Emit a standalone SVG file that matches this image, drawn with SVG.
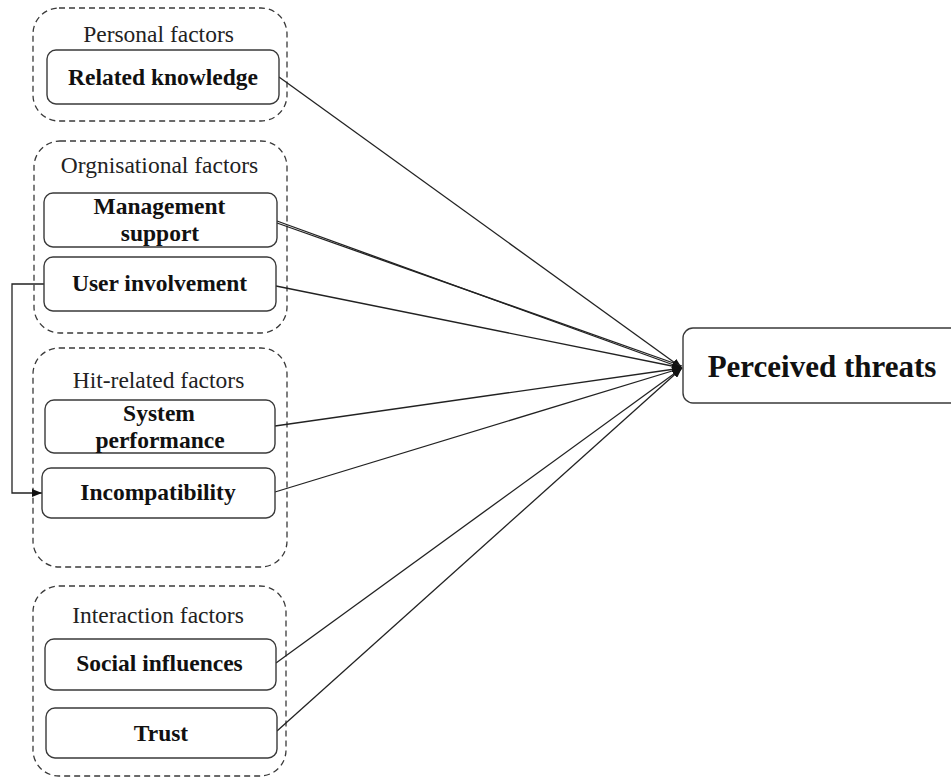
<svg xmlns="http://www.w3.org/2000/svg" width="951" height="778" viewBox="0 0 951 778">
  <style>
    .group { fill: none; stroke: #3a3a3a; stroke-width: 1.3; stroke-dasharray: 6 4; }
    .node { fill: #ffffff; stroke: #3a3a3a; stroke-width: 1.4; }
    .title { font-family: "Liberation Serif", "Times New Roman", serif; font-size: 23.5px; fill: #222; text-anchor: middle; }
    .label { font-family: "Liberation Serif", "Times New Roman", serif; font-size: 23.5px; font-weight: bold; fill: #111; text-anchor: middle; }
    .big { font-family: "Liberation Serif", "Times New Roman", serif; font-size: 31px; font-weight: bold; fill: #111; text-anchor: middle; }
    .edge { fill: none; stroke: #222; stroke-width: 1.3; }
  </style>
  <defs>
    <marker id="arrow" viewBox="0 0 10 8" refX="10" refY="4" markerWidth="10" markerHeight="8" markerUnits="userSpaceOnUse" orient="auto">
      <path d="M0,0 L10,4 L0,8 z" fill="#111"/>
    </marker>
  </defs>
  <rect width="951" height="778" fill="#ffffff"/>

  <!-- factor groups -->
  <g id="personal-factors">
    <rect class="group" x="33" y="8" width="254" height="113" rx="26"/>
    <text class="title" x="158.5" y="42">Personal factors</text>
  </g>
  <g id="organisational-factors">
    <rect class="group" x="34" y="141" width="253" height="192" rx="26"/>
    <text class="title" x="159.5" y="173">Orgnisational factors</text>
  </g>
  <g id="hit-related-factors">
    <rect class="group" x="33" y="348" width="254" height="219" rx="26"/>
    <text class="title" x="158.5" y="388">Hit-related factors</text>
  </g>
  <g id="interaction-factors">
    <rect class="group" x="33" y="586" width="253" height="190" rx="26"/>
    <text class="title" x="158" y="623">Interaction factors</text>
  </g>

  <!-- connectors -->
  <g id="connectors">
    <line class="edge" x1="279" y1="77" x2="682" y2="368" marker-end="url(#arrow)"/>
    <line class="edge" x1="277" y1="221" x2="682" y2="368" marker-end="url(#arrow)"/>
    <line class="edge" x1="277" y1="223" x2="682" y2="366"/>
    <line class="edge" x1="276" y1="286" x2="682" y2="368" marker-end="url(#arrow)"/>
    <line class="edge" x1="275" y1="426" x2="682" y2="368" marker-end="url(#arrow)"/>
    <line class="edge" x1="275" y1="492" x2="682" y2="368" marker-end="url(#arrow)"/>
    <line class="edge" x1="276" y1="663" x2="682" y2="368" marker-end="url(#arrow)"/>
    <line class="edge" x1="277" y1="731" x2="682" y2="368" marker-end="url(#arrow)"/>
    <path class="edge" d="M44,284 H12 V493 H42" marker-end="url(#arrow)"/>
  </g>

  <!-- nodes -->
  <g id="related-knowledge">
    <rect class="node" x="47" y="50" width="232" height="54" rx="9"/>
    <text class="label" x="163" y="85">Related knowledge</text>
  </g>
  <g id="management-support">
    <rect class="node" x="44" y="193" width="233" height="54" rx="9"/>
    <text class="label" x="159.5" y="214">Management</text>
    <text class="label" x="160" y="241">support</text>
  </g>
  <g id="user-involvement">
    <rect class="node" x="44" y="257" width="232" height="54" rx="9"/>
    <text class="label" x="159.5" y="291">User involvement</text>
  </g>
  <g id="system-performance">
    <rect class="node" x="45" y="400" width="230" height="53" rx="9"/>
    <text class="label" x="159" y="421">System</text>
    <text class="label" x="160" y="448">performance</text>
  </g>
  <g id="incompatibility">
    <rect class="node" x="42" y="468" width="233" height="50" rx="9"/>
    <text class="label" x="158" y="500">Incompatibility</text>
  </g>
  <g id="social-influences">
    <rect class="node" x="45" y="639" width="231" height="51" rx="9"/>
    <text class="label" x="159.5" y="671">Social influences</text>
  </g>
  <g id="trust">
    <rect class="node" x="46" y="708" width="231" height="50" rx="9"/>
    <text class="label" x="161" y="741">Trust</text>
  </g>
  <g id="perceived-threats">
    <rect class="node" x="683" y="328" width="280" height="75" rx="10"/>
    <text class="big" x="822" y="377">Perceived threats</text>
  </g>
</svg>
